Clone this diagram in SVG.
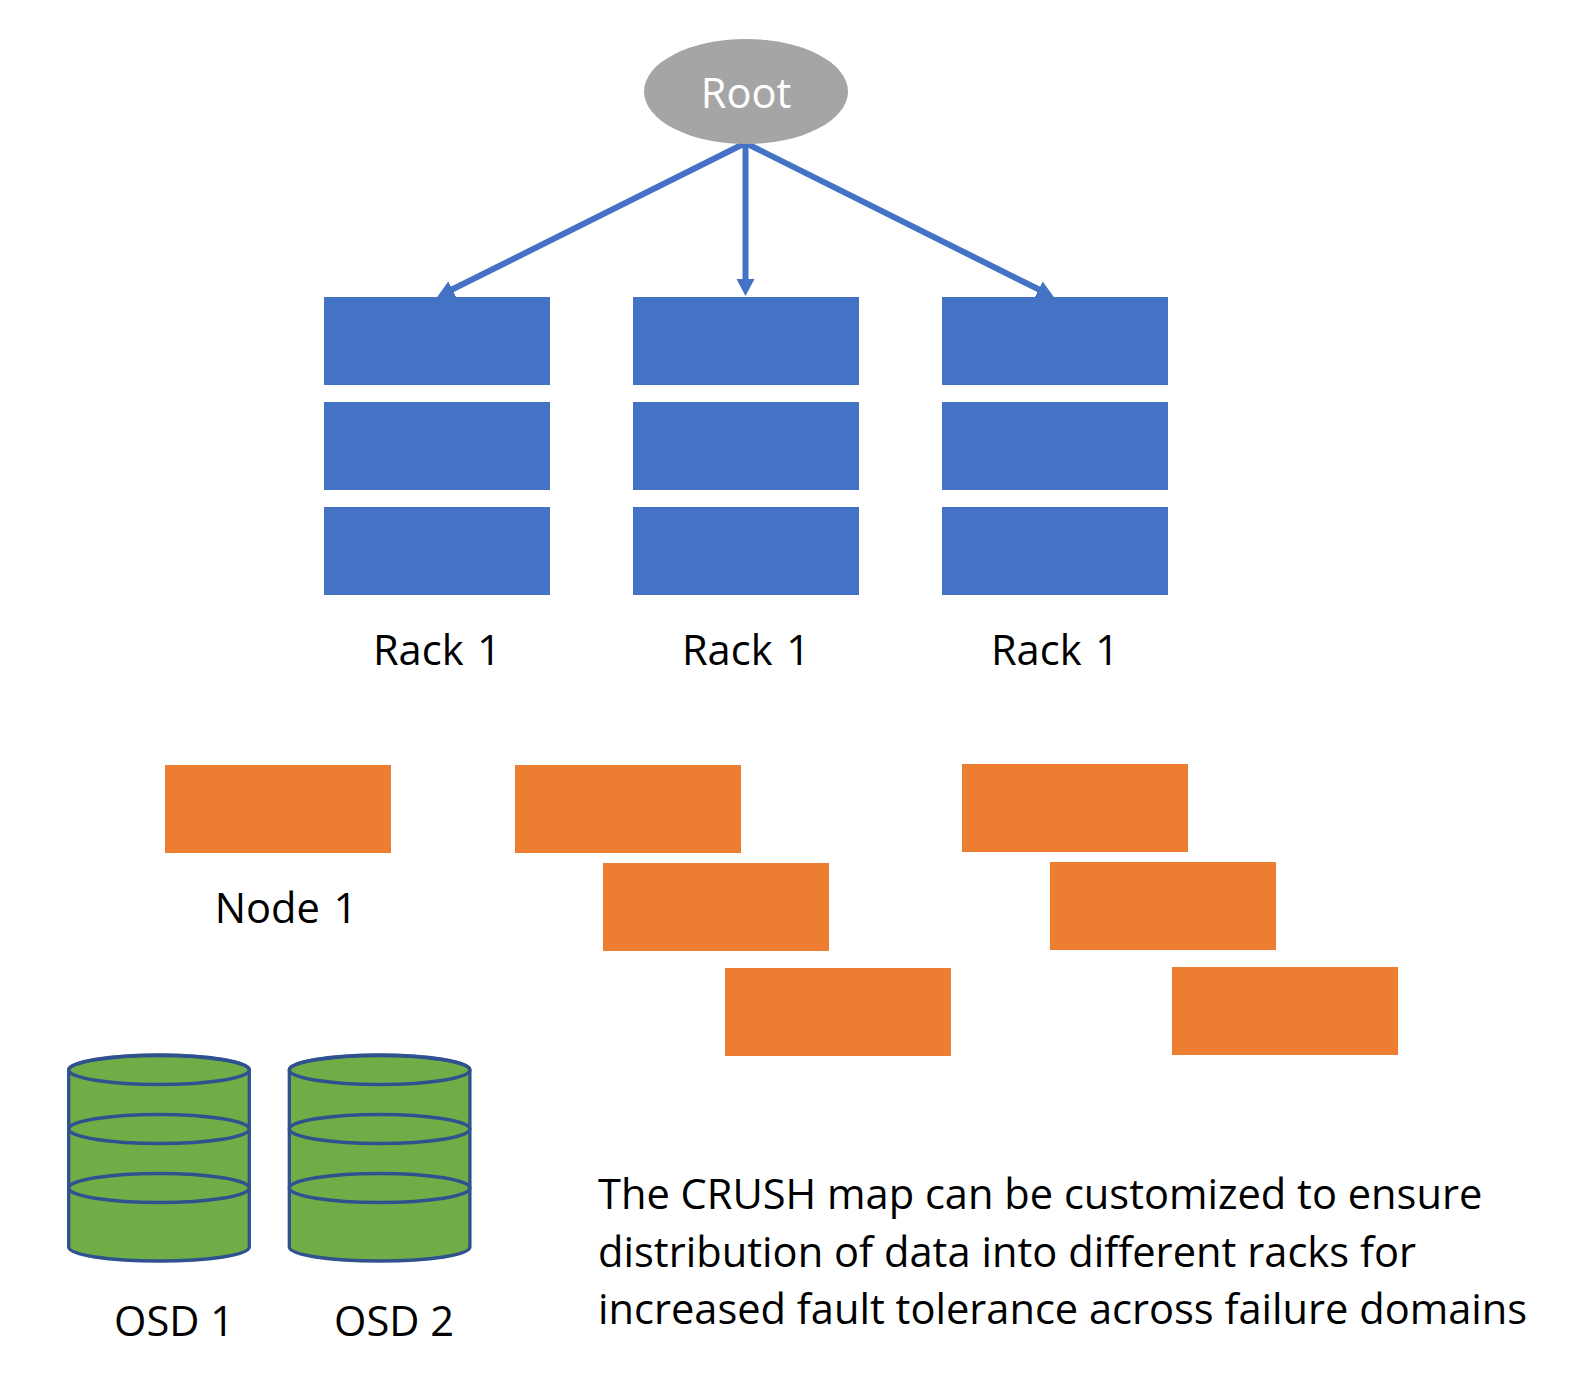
<svg xmlns="http://www.w3.org/2000/svg" width="1569" height="1387" viewBox="0 0 1569 1387">
<style>
text{font-family:"Open Sans","Noto Sans","Liberation Sans",sans-serif;font-size:41.600px;fill:#000}
.m{text-anchor:middle}
.w{word-spacing:3px}
.b{fill:#4472C4}
.o{fill:#ED7D31}
.c{stroke:#4472C4;stroke-width:6;fill:none;marker-end:url(#ah)}
.d{fill:#70AD47;stroke:#2F528F;stroke-width:3.300}
.e{fill:none;stroke:#2F528F;stroke-width:3.300}
</style>
<defs>
<marker id="ah" markerUnits="userSpaceOnUse" markerWidth="20" markerHeight="20" refX="1" refY="9" orient="auto"><path d="M0,0L17,9L0,18Z" fill="#4472C4"/></marker>
<g id="cyl"><path class="d" d="M0,15V192C0,200 40,206 90.300,206S180.600,200 180.600,192V15C180.600,7 140,0 90.300,0S0,7 0,15Z"/><ellipse class="e" cx="90.300" cy="15" rx="90.300" ry="14.500"/><ellipse class="e" cx="90.300" cy="74" rx="90.300" ry="14.500"/><ellipse class="e" cx="90.300" cy="133" rx="90.300" ry="14.500"/></g>
</defs>
<g id="connectors">
<line class="c" x1="745.500" y1="143" x2="451.500" y2="289.800"/>
<line class="c" x1="745.500" y1="143" x2="745.500" y2="280"/>
<line class="c" x1="745.500" y1="143" x2="1039.500" y2="289.800"/>
</g>
<g id="root"><ellipse cx="746" cy="91.500" rx="102" ry="52.500" fill="#A5A5A5"/><text class="m" x="746" y="108" style="fill:#fff">Root</text></g>
<g id="rack-1"><rect class="b" x="324" y="297" width="226" height="88"/><rect class="b" x="324" y="402" width="226" height="88"/><rect class="b" x="324" y="507" width="226" height="88"/><text class="m w" x="437" y="665">Rack 1</text></g>
<g id="rack-2"><rect class="b" x="633" y="297" width="226" height="88"/><rect class="b" x="633" y="402" width="226" height="88"/><rect class="b" x="633" y="507" width="226" height="88"/><text class="m w" x="746" y="665">Rack 1</text></g>
<g id="rack-3"><rect class="b" x="942" y="297" width="226" height="88"/><rect class="b" x="942" y="402" width="226" height="88"/><rect class="b" x="942" y="507" width="226" height="88"/><text class="m w" x="1055" y="665">Rack 1</text></g>
<g id="node-1"><rect class="o" x="165" y="765" width="226" height="88"/><text class="m w" x="286" y="923">Node 1</text></g>
<g id="nodes-a"><rect class="o" x="515" y="765" width="226" height="88"/><rect class="o" x="603" y="863" width="226" height="88"/><rect class="o" x="725" y="968" width="226" height="88"/></g>
<g id="nodes-b"><rect class="o" x="962" y="764" width="226" height="88"/><rect class="o" x="1050" y="862" width="226" height="88"/><rect class="o" x="1172" y="967" width="226" height="88"/></g>
<g id="osd-1"><use href="#cyl" x="68.700" y="1055"/><text class="m" x="174" y="1336">OSD 1</text></g>
<g id="osd-2"><use href="#cyl" x="289.300" y="1055"/><text class="m" x="394" y="1336">OSD 2</text></g>
<g id="note"><text x="598" y="1209">The CRUSH map can be customized to ensure</text><text x="598" y="1267" textLength="818">distribution of data into different racks for</text><text x="598" y="1324">increased fault tolerance across failure domains</text></g>
</svg>
